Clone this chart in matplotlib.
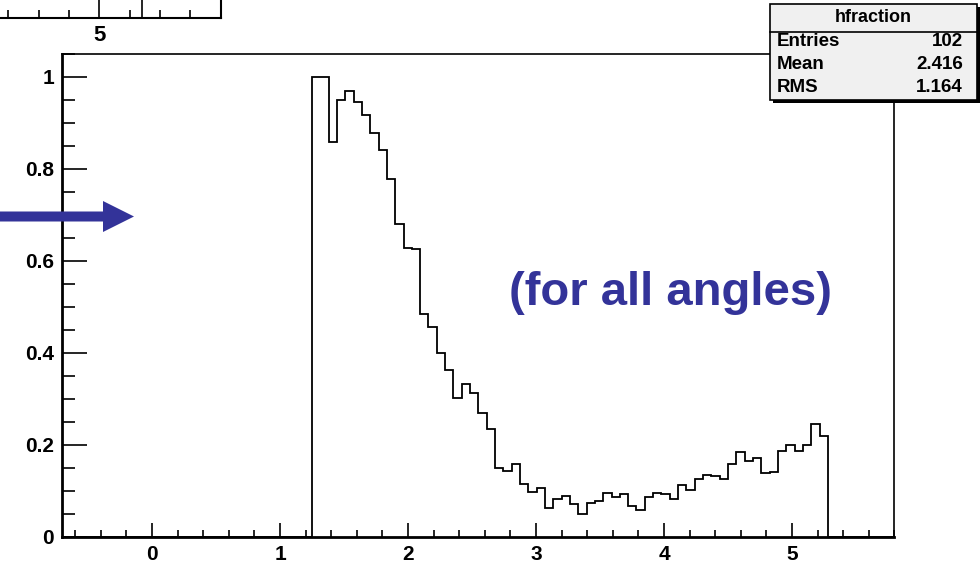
import numpy as np
import matplotlib
matplotlib.use("Agg")
import matplotlib.pyplot as plt
from matplotlib.patches import Rectangle, FancyArrow
from matplotlib.ticker import MultipleLocator, FixedLocator, FuncFormatter

plt.rcParams['font.family'] = ['Liberation Sans', 'DejaVu Sans']
plt.rcParams['font.weight'] = 'bold'

# Histogram definition: 100 bins from -0.7 to 5.8
n_bins = 100
x_min, x_max = -0.7, 5.8
first_filled_bin = 30
filled_values = [
    1.000, 1.000, 0.858, 0.951, 0.970, 0.945, 0.918, 0.878, 0.841, 0.779,
    0.681, 0.628, 0.626, 0.484, 0.457, 0.401, 0.364, 0.303, 0.333, 0.313,
    0.270, 0.235, 0.150, 0.143, 0.158, 0.115, 0.098, 0.107, 0.064, 0.083,
    0.090, 0.072, 0.050, 0.074, 0.078, 0.095, 0.088, 0.094, 0.068, 0.059,
    0.088, 0.096, 0.093, 0.083, 0.112, 0.103, 0.127, 0.134, 0.133, 0.126,
    0.159, 0.185, 0.166, 0.172, 0.140, 0.141, 0.187, 0.199, 0.187, 0.199,
    0.245, 0.220,
]
bin_values = np.zeros(n_bins)
bin_values[first_filled_bin:first_filled_bin + len(filled_values)] = filled_values
bin_edges = np.linspace(x_min, x_max, n_bins + 1)

x_ticks = [0, 1, 2, 3, 4, 5]
y_ticks = [0, 0.2, 0.4, 0.6, 0.8, 1.0]
corner_ticks = [5]

stats_title = "hfraction"
stats_rows = [("Entries", "102"), ("Mean", "2.416"), ("RMS", "1.164")]
note_text = "(for all angles)"
accent = "#333399"

W, H = 980, 569
fig = plt.figure(figsize=(W / 100, H / 100), dpi=100)

def px_rect(left, top, right, bottom):
    return [left / W, 1 - bottom / H, (right - left) / W, (bottom - top) / H]

# Main frame
ax = fig.add_axes(px_rect(62.4, 54, 894.4, 537))
ax.stairs(bin_values, bin_edges, color='black', linewidth=1.3)
ax.set_xlim(x_min, x_max)
ax.set_ylim(0, 1.05)
ax.xaxis.set_major_locator(FixedLocator(x_ticks))
ax.xaxis.set_minor_locator(MultipleLocator(0.2))
ax.yaxis.set_major_locator(FixedLocator(y_ticks))
ax.yaxis.set_minor_locator(MultipleLocator(0.05))
ax.yaxis.set_major_formatter(FuncFormatter(lambda v, p: f"{v:g}"))
ax.xaxis.set_major_formatter(FuncFormatter(lambda v, p: f"{v:g}"))
ax.tick_params(axis='x', which='major', direction='in', length=10, width=1.2,
               labelsize=15, pad=6)
ax.tick_params(axis='x', which='minor', direction='in', length=5, width=1.2)
ax.tick_params(axis='y', which='major', direction='in', length=18, width=1.2,
               labelsize=15, pad=6)
ax.tick_params(axis='y', which='minor', direction='in', length=9, width=1.2)
for lab in ax.get_xticklabels() + ax.get_yticklabels():
    lab.set_fontweight('bold')
for side in ['left', 'bottom']:
    ax.spines[side].set_linewidth(2)
for side in ['top', 'right']:
    ax.spines[side].set_linewidth(1.2)

# Partial neighbouring frame in the top-left corner
ax2 = fig.add_axes(px_rect(0, -40, 220.6, 18.3))
ax2.set_xlim(4.18, 6.0)
ax2.set_ylim(0, 1)
ax2.axvline(5.35, color='black', linewidth=1.2)
ax2.xaxis.set_major_locator(FixedLocator(corner_ticks))
ax2.xaxis.set_minor_locator(MultipleLocator(0.25))
ax2.xaxis.set_major_formatter(FuncFormatter(lambda v, p: f"{v:g}"))
ax2.set_yticks([])
ax2.tick_params(axis='x', which='major', direction='in', length=13, width=1.2,
                labelsize=16, pad=5)
ax2.tick_params(axis='x', which='minor', direction='in', length=6, width=1.2)
for lab in ax2.get_xticklabels():
    lab.set_fontweight('heavy')
ax2.spines['top'].set_visible(False)
ax2.spines['left'].set_visible(False)
ax2.spines['bottom'].set_linewidth(1.5)
ax2.spines['right'].set_linewidth(1.5)
ax2.patch.set_alpha(0)

# Overlay in pixel units for the arrow, note and statistics box
ov = fig.add_axes([0, 0, 1, 1])
ov.set_xlim(0, W)
ov.set_ylim(H, 0)
ov.axis('off')

ov.add_patch(FancyArrow(0, 216.5, 134, 0, width=10, head_width=31, head_length=31,
                        length_includes_head=True, color=accent, linewidth=0))
ov.text(670, 305, note_text, color=accent, fontsize=34, fontweight='bold',
        ha='center', va='baseline')

# Statistics box with shadow
ov.add_patch(Rectangle((773, 7), 207, 96, facecolor='black', edgecolor='none', zorder=5))
ov.add_patch(Rectangle((770, 4), 207, 96, facecolor='#f0f0f0', edgecolor='black',
                       linewidth=1.2, zorder=6))
ov.plot([770, 977], [31.5, 31.5], color='black', linewidth=1.2, zorder=7)
ov.text(873.5, 17.5, stats_title, fontsize=13, fontweight='bold',
        ha='center', va='center', zorder=8)
for i, (name, val) in enumerate(stats_rows):
    y = 41.7 + i * 23
    ov.text(777, y, name, fontsize=13.5, fontweight='bold', ha='left', va='center', zorder=8)
    ov.text(963, y, val, fontsize=13.5, fontweight='bold', ha='right', va='center', zorder=8)

fig.savefig("out.png", dpi=100)
